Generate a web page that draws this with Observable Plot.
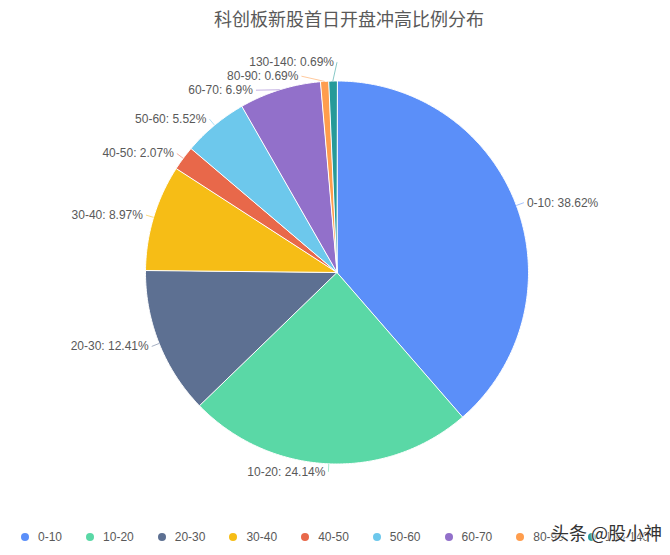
<!DOCTYPE html>
<html>
<head>
<meta charset="utf-8">
<script src="https://cdn.jsdelivr.net/npm/d3@7"></script>
<script src="https://cdn.jsdelivr.net/npm/@observablehq/plot@0.6"></script>
<style>
  html, body { margin: 0; padding: 0; background: #fff; }
  body { width: 670px; height: 555px; position: relative; overflow: hidden;
         font-family: "Liberation Sans", "Noto Sans CJK SC", sans-serif; }
  #title { height: 40px; line-height: 40px; font-size: 18px; color: #595959;
           text-align: center; padding-left: 28px; box-sizing: border-box; }
  #chart svg { display: block; }
  #legend { height: 40px; display: flex; justify-content: center; align-items: center;
            font-size: 12px; color: #595959; padding-top: 4px; box-sizing: border-box; }
  .item { display: flex; align-items: center; margin: 0 12px; }
  .dot { width: 8px; height: 8px; border-radius: 50%; margin-right: 9px; }
  #wm { position: absolute; left: 551px; top: 519px; font-size: 18px; color: #333;
        font-family: "Noto Sans CJK SC", sans-serif;
        text-shadow: 0 0 2px #fff, 0 0 2px #fff, 1px 1px 0 #fff; }
</style>
</head>
<body>
<div id="title">科创板新股首日开盘冲高比例分布</div>
<div id="chart"></div>
<div id="legend"></div>
<div id="wm">头条 @股小神</div>
<script>
// ---- data ----
const categories = ["0-10", "10-20", "20-30", "30-40", "40-50", "50-60", "60-70", "80-90", "130-140"];
const percents = [38.62, 24.14, 12.41, 8.97, 2.07, 5.52, 6.9, 0.69, 0.69];
const palette = ["#5B8FF9", "#5AD8A6", "#5D7092", "#F6BD16", "#E8684A", "#6DC8EC", "#9270CA", "#FF9D4D", "#269A99"];

// ---- layout ----
const R = 191.5;          // pie radius in px
const W = 670, H = 475;
const cx = 336.5, cy = 232;

const arcs = d3.pie().sort(null).value(d => d.value)(
  categories.map((c, i) => ({key: c, value: percents[i]}))
);

// slice polygons in unit coordinates (y up, angle 0 at top, clockwise)
const slicePts = [];
for (const a of arcs) {
  const key = a.data.key;
  slicePts.push({key, x: 0, y: 0});
  const n = Math.max(2, Math.ceil((a.endAngle - a.startAngle) / 0.008) + 1);
  for (let k = 0; k < n; k++) {
    const t = a.startAngle + (a.endAngle - a.startAngle) * k / (n - 1);
    slicePts.push({key, x: Math.sin(t), y: Math.cos(t)});
  }
}

// labels with simple vertical overlap avoidance per side
const Rl = 1 + 8 / R;
const spacing = 14 / R;
const labels = arcs.map(a => {
  const m = (a.startAngle + a.endAngle) / 2;
  return {
    key: a.data.key,
    text: `${a.data.key}: ${a.data.value}%`,
    ax: Math.sin(m), ay: Math.cos(m),
    ideal: Math.cos(m) * Rl,
    side: m < Math.PI ? 1 : -1
  };
});
for (const side of [1, -1]) {
  const ls = labels.filter(l => l.side === side).sort((a, b) => b.ideal - a.ideal);
  let clusters = ls.map(l => ({members: [l]}));
  const place = c => {
    const mean = d3.mean(c.members, l => l.ideal);
    const n = c.members.length;
    c.members.forEach((l, i) => l.ly = mean - (i - (n - 1) / 2) * spacing);
  };
  clusters.forEach(place);
  let changed = true;
  while (changed) {
    changed = false;
    for (let i = 0; i < clusters.length - 1; i++) {
      const a = clusters[i], b = clusters[i + 1];
      const aLow = a.members[a.members.length - 1].ly;
      const bHigh = b.members[0].ly;
      if (aLow - bHigh < spacing) {
        const merged = {members: a.members.concat(b.members)};
        place(merged);
        clusters.splice(i, 2, merged);
        changed = true;
        break;
      }
    }
  }
  for (const l of ls) {
    const d = Rl * Rl - l.ly * l.ly;
    l.lx = d > 0 ? side * Math.sqrt(d) : 0;
  }
}

const plot = Plot.plot({
  width: W, height: H,
  margin: 0,
  x: {domain: [-1, 1], range: [cx - R, cx + R], axis: null},
  y: {domain: [-1, 1], range: [cy + R, cy - R], axis: null},
  color: {domain: categories, range: palette},
  style: {fontFamily: "Liberation Sans, Noto Sans CJK SC, sans-serif", background: "#fff"},
  marks: [
    Plot.line(slicePts, {x: "x", y: "y", z: "key", fill: "key", stroke: "#fff",
      strokeWidth: 1, curve: "linear-closed", strokeLinejoin: "round"}),
    Plot.link(labels, {x1: "ax", y1: "ay", x2: "lx", y2: "ly", stroke: "key", strokeOpacity: 0.55, strokeWidth: 1}),
    Plot.text(labels.filter(l => l.side === 1), {x: "lx", y: "ly", text: "text", textAnchor: "start", dx: 3,
      fontSize: 12, fill: "#595959"}),
    Plot.text(labels.filter(l => l.side === -1), {x: "lx", y: "ly", text: "text", textAnchor: "end", dx: -3,
      fontSize: 12, fill: "#595959"})
  ]
});
document.getElementById("chart").appendChild(plot);

// legend
const legend = document.getElementById("legend");
categories.forEach((c, i) => {
  const it = document.createElement("div");
  it.className = "item";
  const dot = document.createElement("span");
  dot.className = "dot";
  dot.style.background = palette[i];
  const t = document.createElement("span");
  t.textContent = c;
  it.appendChild(dot); it.appendChild(t);
  legend.appendChild(it);
});
</script>
</body>
</html>
